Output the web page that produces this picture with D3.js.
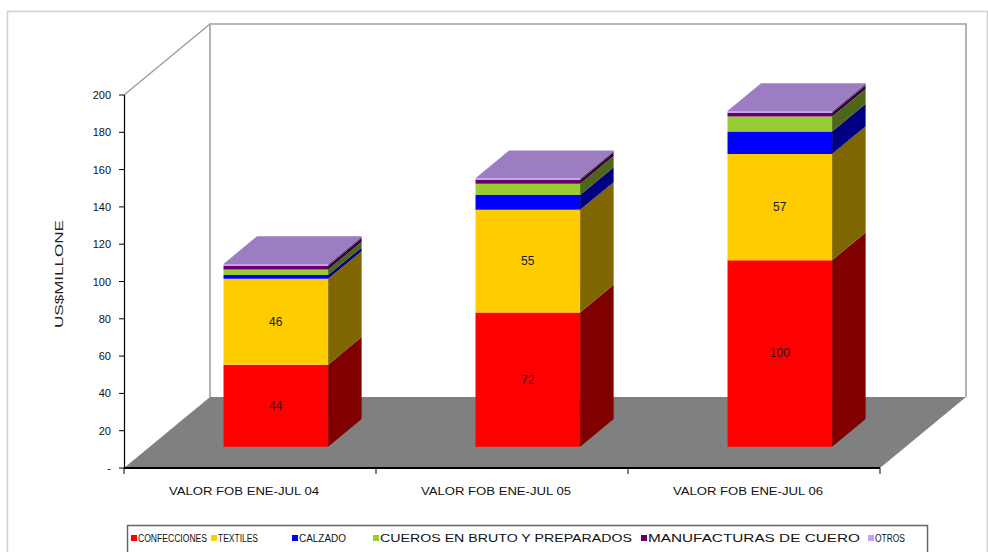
<!DOCTYPE html>
<html>
<head>
<meta charset="utf-8">
<script src="https://cdn.jsdelivr.net/npm/d3@7/dist/d3.min.js"></script>
<style>
  html, body { margin: 0; padding: 0; background: #ffffff; }
  svg { display: block; }
  text { font-family: "Liberation Sans", Arial, sans-serif; }
</style>
</head>
<body>
<svg id="chart" width="988" height="552"></svg>
<script>
// Export values (US$ millions), stacked per period
const categories = ["VALOR FOB ENE-JUL 04", "VALOR FOB ENE-JUL 05", "VALOR FOB ENE-JUL 06"];
const seriesNames = ["CONFECCIONES", "TEXTILES", "CALZADO", "CUEROS EN BRUTO Y PREPARADOS", "MANUFACTURAS DE CUERO", "OTROS"];
const confecciones = [44, 72, 100];
const textiles = [46, 55, 57];
const calzado = [2, 8, 12];
const cueros = [3, 6, 8];
const manufacturas = [2, 2, 2];
const otros = [1, 1, 1];
const yTickValues = [0, 20, 40, 60, 80, 100, 120, 140, 160, 180, 200];
const yTickLabels = ["-", "20", "40", "60", "80", "100", "120", "140", "160", "180", "200"];
const labelledSeries = ["CONFECCIONES", "TEXTILES"];

const seriesValues = [confecciones, textiles, calzado, cueros, manufacturas, otros];
const seriesColors = ["#ff0000", "#ffcc00", "#0000ff", "#99cc33", "#660066", "#c8a0f8"];

const svg = d3.select("#chart");

// Plot geometry
const x0 = 124, x1 = 880, yBottom = 468, yTop = 95;
const DX = 86, DY = -71;          // depth vector of the floor
const fFront = 0.30, fBack = 0.69; // depth slice occupied by the bars

const x = d3.scaleBand().domain(categories).range([x0, x1]).padding(0);
const y = d3.scaleLinear().domain([0, 200]).range([yBottom, yTop]);
const barW = x.bandwidth() * 0.415;

const P = (px, v, f) => [px + f * DX, y(v) + f * DY];
const poly = pts => "M" + pts.map(p => p.join(",")).join("L") + "Z";
const shade = (c, k) => { const r = d3.rgb(c); return d3.rgb(r.r * k, r.g * k, r.b * k).toString(); };

// Outer frame
svg.append("rect").attr("x", 7.5).attr("y", 11.5).attr("width", 980).attr("height", 560)
  .attr("fill", "none").attr("stroke", "#d0d0d0").attr("stroke-width", 1.5);

// Floor
svg.append("path")
  .attr("d", poly([[x0, yBottom], [x1, yBottom], [x1 + DX, yBottom + DY], [x0 + DX, yBottom + DY]]))
  .attr("fill", "#808080");

// Walls
const wallTop = y(200) + DY;
const wall = svg.append("g").attr("fill", "none").attr("stroke", "#a0a0a0").attr("stroke-width", 1.6);
wall.append("path").attr("d", `M${x0},${y(200)}L${x0 + DX},${wallTop}`);
wall.append("path").attr("d", `M${x0 + DX},${yBottom + DY}L${x0 + DX},${wallTop}L${x1 + DX},${wallTop}L${x1 + DX},${yBottom + DY}`);

// Stacked 3D bars
categories.forEach((cat, i) => {
  const left = x(cat) + (x.bandwidth() - barW) / 2;
  const right = left + barW;
  let base = 0;
  const segs = seriesValues.map((vals, s) => {
    const seg = { s, v0: base, v1: base + vals[i], color: seriesColors[s] };
    base += vals[i];
    return seg;
  });
  const g = svg.append("g");
  segs.forEach(seg => {
    // right side face
    g.append("path")
      .attr("d", poly([P(right, seg.v0, fFront), P(right, seg.v1, fFront), P(right, seg.v1, fBack), P(right, seg.v0, fBack)]))
      .attr("fill", shade(seg.color, 0.5));
    // front face
    g.append("path")
      .attr("d", poly([P(left, seg.v0, fFront), P(right, seg.v0, fFront), P(right, seg.v1, fFront), P(left, seg.v1, fFront)]))
      .attr("fill", seg.color);
  });
  const topSeg = segs[segs.length - 1];
  g.append("path")
    .attr("d", poly([P(left, topSeg.v1, fFront), P(right, topSeg.v1, fFront), P(right, topSeg.v1, fBack), P(left, topSeg.v1, fBack)]))
    .attr("fill", shade(topSeg.color, 0.78));
  // value labels on the two main segments
  segs.filter(seg => labelledSeries.includes(seriesNames[seg.s])).forEach(seg => {
    const c = P((left + right) / 2, (seg.v0 + seg.v1) / 2, fFront);
    g.append("text").attr("x", c[0]).attr("y", c[1] + 4)
      .attr("text-anchor", "middle").attr("font-size", 12).attr("fill", "#1a1a1a")
      .text(seriesValues[seg.s][i]);
  });
});

// Value axis
const yAxis = svg.append("g");
yAxis.append("line").attr("x1", x0 + 0.5).attr("x2", x0 + 0.5).attr("y1", y(200)).attr("y2", yBottom)
  .attr("stroke", "#000").attr("stroke-width", 1.2);
yTickValues.forEach((v, k) => {
  yAxis.append("line").attr("x1", x0 - 5).attr("x2", x0).attr("y1", y(v)).attr("y2", y(v))
    .attr("stroke", "#000").attr("stroke-width", 1);
  yAxis.append("text").attr("x", x0 - 13).attr("y", y(v) + 4).attr("text-anchor", "end")
    .attr("font-size", 11).attr("fill", "#111").text(yTickLabels[k]);
});
svg.append("text").attr("transform", `translate(63,274) rotate(-90)`)
  .attr("text-anchor", "middle").attr("font-size", 11).attr("fill", "#222")
  .attr("textLength", 108).attr("lengthAdjust", "spacingAndGlyphs").text("US$MILLONE");

// Category axis along the floor's front edge
const xAxis = svg.append("g");
xAxis.append("line").attr("x1", x0).attr("x2", x1).attr("y1", yBottom).attr("y2", yBottom)
  .attr("stroke", "#000").attr("stroke-width", 2);
[x0, ...categories.map(c => x(c) + x.bandwidth())].forEach(t => {
  xAxis.append("line").attr("x1", t).attr("x2", t).attr("y1", yBottom).attr("y2", yBottom + 6)
    .attr("stroke", "#000").attr("stroke-width", 1);
});
categories.forEach(c => {
  xAxis.append("text").attr("x", x(c) + x.bandwidth() / 2 - 6).attr("y", 494.5)
    .attr("text-anchor", "middle").attr("font-size", 10).attr("fill", "#111")
    .attr("textLength", 150).attr("lengthAdjust", "spacingAndGlyphs").text(c);
});

// Legend
const legend = svg.append("g");
legend.append("rect").attr("x", 127.5).attr("y", 525.5).attr("width", 800).attr("height", 40)
  .attr("fill", "#fff").attr("stroke", "#666").attr("stroke-width", 1.5);
const legendX = [131, 211, 292, 373, 641, 868];
const legendW = [69, 40, 47, 252, 212, 30];
seriesNames.forEach((name, s) => {
  legend.append("rect").attr("x", legendX[s]).attr("y", 535).attr("width", 6).attr("height", 6)
    .attr("fill", seriesColors[s]);
  legend.append("text").attr("x", legendX[s] + 7).attr("y", 542).attr("font-size", 10).attr("fill", "#111")
    .attr("textLength", legendW[s]).attr("lengthAdjust", "spacingAndGlyphs").text(name);
});
</script>
</body>
</html>
